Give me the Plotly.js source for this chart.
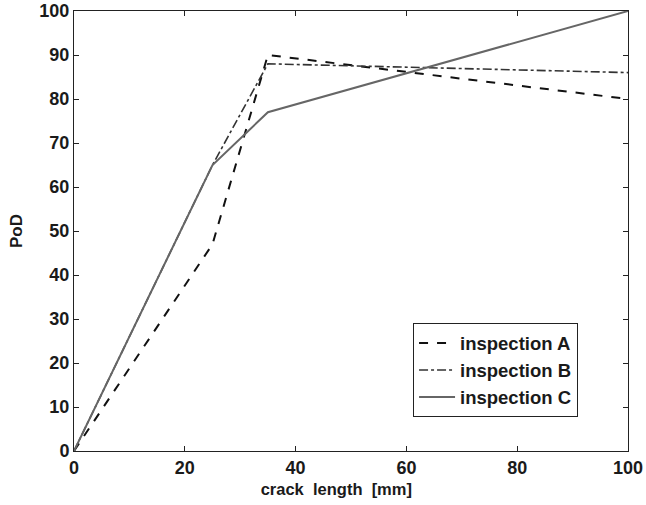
<!DOCTYPE html>
<html>
<head>
<meta charset="utf-8">
<script src="https://cdn.plot.ly/plotly-3.0.1.min.js"></script>
<style>html,body{margin:0;padding:0;background:#fff;}#chart{width:646px;height:505px;}</style>
</head>
<body>
<div id="chart"></div>
<script>
const crackLength = [0, 25, 35, 100];
const podA = [0, 47, 90, 80];
const podB = [0, 65, 88, 86];
const podC = [0, 65, 77, 100];
const seriesNames = ['inspection A', 'inspection B', 'inspection C'];
const xTicks = [0, 20, 40, 60, 80, 100];
const yTicks = [0, 10, 20, 30, 40, 50, 60, 70, 80, 90, 100];

const fam = 'Liberation Sans, Arial, sans-serif';
const txt = '#1a1a1a';

const traces = [
  {x: crackLength, y: podA, name: seriesNames[0], mode: 'lines', line: {color: '#111', width: 2, dash: 'dash'}},
  {x: crackLength, y: podB, name: seriesNames[1], mode: 'lines', line: {color: '#333', width: 1.6, dash: 'dashdot'}},
  {x: crackLength, y: podC, name: seriesNames[2], mode: 'lines', line: {color: '#666', width: 2}}
];

const layout = {
  width: 646, height: 505,
  margin: {l: 74, r: 18, t: 11, b: 54},
  paper_bgcolor: '#fff', plot_bgcolor: '#fff',
  font: {family: fam, size: 18, color: txt, weight: 'bold'},
  showlegend: true,
  legend: {x: 0.612, y: 0.29, xanchor: 'left', yanchor: 'top', bgcolor: '#fff',
           bordercolor: '#222', borderwidth: 1, itemwidth: 36,
           font: {family: fam, size: 18.5, color: txt, weight: 'bold'},
           tracegroupgap: 0},
  xaxis: {range: [0, 100], tickvals: xTicks, ticks: 'inside', ticklen: 5, tickwidth: 1, tickcolor: '#222',
          showline: true, linecolor: '#222', linewidth: 1, mirror: 'ticks', showgrid: false, zeroline: false,
          tickfont: {family: fam, size: 18, color: txt, weight: 'bold'},
          title: {text: 'crack\u00a0\u00a0length\u00a0\u00a0[mm]<span style="color:rgba(0,0,0,0)">mm</span>', standoff: 6, font: {family: fam, size: 16.5, color: txt, weight: 'bold'}}},
  yaxis: {range: [0, 100], tickvals: yTicks, ticks: 'inside', ticklen: 5, tickwidth: 1, tickcolor: '#222',
          showline: true, linecolor: '#222', linewidth: 1, mirror: 'ticks', showgrid: false, zeroline: false,
          tickfont: {family: fam, size: 18, color: txt, weight: 'bold'},
          title: {text: 'PoD', standoff: 12, font: {family: fam, size: 17, color: txt, weight: 'bold'}}}
};

Plotly.newPlot('chart', traces, layout, {displayModeBar: false, staticPlot: true});
</script>
</body>
</html>
